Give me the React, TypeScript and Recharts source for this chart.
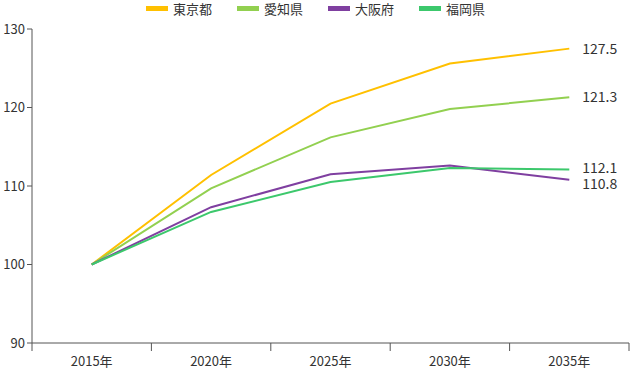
import React from 'react';
import { LineChart, Line, XAxis, YAxis, LabelList } from 'recharts';

const years = ['2015年', '2020年', '2025年', '2030年', '2035年'];
const tokyo = [100, 111.4, 120.5, 125.6, 127.5];
const aichi = [100, 109.7, 116.2, 119.8, 121.3];
const osaka = [100, 107.3, 111.5, 112.6, 110.8];
const fukuoka = [100, 106.7, 110.5, 112.3, 112.1];
const yTicks = [90, 100, 110, 120, 130];

const series = [
  { key: 'tokyo', name: '東京都', color: '#FFC000', dy: 0 },
  { key: 'aichi', name: '愛知県', color: '#92D050', dy: 0 },
  { key: 'osaka', name: '大阪府', color: '#7F3FA0', dy: 4 },
  { key: 'fukuoka', name: '福岡県', color: '#3CC86C', dy: -2 },
];

const data = years.map((year, i) => ({
  year,
  tokyo: tokyo[i],
  aichi: aichi[i],
  osaka: osaka[i],
  fukuoka: fukuoka[i],
}));

const FONT = '"Noto Sans CJK JP", "Noto Sans", sans-serif';
const AXIS = '#555';

function XTick(props: any) {
  const { x, y, payload, index, visibleTicksCount } = props;
  const half = payload.offset || 59.7;
  return (
    <g>
      <line x1={x - half} y1={y} x2={x - half} y2={y + 8} stroke={AXIS} />
      {index === visibleTicksCount - 1 && (
        <line x1={x + half} y1={y} x2={x + half} y2={y + 8} stroke={AXIS} />
      )}
      <text x={x} y={y + 23} textAnchor="middle" fontSize={13} fill="#333" fontFamily={FONT}>
        {payload.value}
      </text>
    </g>
  );
}

function LegendBox() {
  return (
    <div style={{ position: 'absolute', top: 0, left: 146, display: 'flex', fontFamily: FONT, fontSize: 13, color: '#333', lineHeight: '17px' }}>
      {series.map((s) => (
        <div key={s.key} style={{ display: 'flex', alignItems: 'center', width: 91 }}>
          <span style={{ display: 'inline-block', width: 22, height: 5, background: s.color, marginRight: 5 }} />
          <span>{s.name}</span>
        </div>
      ))}
    </div>
  );
}

function endLabel(dy: number) {
  return (props: any) => {
    const { x, y, value, index } = props;
    if (index !== years.length - 1) return null;
    return (
      <text x={x + 13} y={y + dy + 5} fontSize={14} fill="#333" fontFamily={FONT}>
        {value.toFixed(1)}
      </text>
    );
  };
}

export default function App() {
  return (
    <div style={{ position: 'absolute', left: 0, top: 0, width: 630, height: 370, background: '#fff' }}>
      <LegendBox />
      <LineChart width={630} height={370} data={data} margin={{ top: 29, right: 1, bottom: 0, left: 0 }}>
        <XAxis
          dataKey="year"
          scale="band"
          height={27}
          axisLine={{ stroke: AXIS }}
          tickLine={false}
          tickSize={0}
          tickMargin={0}
          tick={<XTick />}
          interval={0}
        />
        <YAxis
          width={32}
          domain={[90, 130]}
          ticks={yTicks}
          axisLine={{ stroke: AXIS }}
          tickLine={{ stroke: AXIS }}
          tickSize={5}
          tick={{ fontSize: 13, fill: '#333', fontFamily: FONT }}
        />
        {series.map((s) => (
          <Line
            key={s.key}
            dataKey={s.key}
            name={s.name}
            stroke={s.color}
            strokeWidth={2}
            dot={false}
            isAnimationActive={false}
          >
            <LabelList dataKey={s.key} content={endLabel(s.dy)} />
          </Line>
        ))}
      </LineChart>
    </div>
  );
}
